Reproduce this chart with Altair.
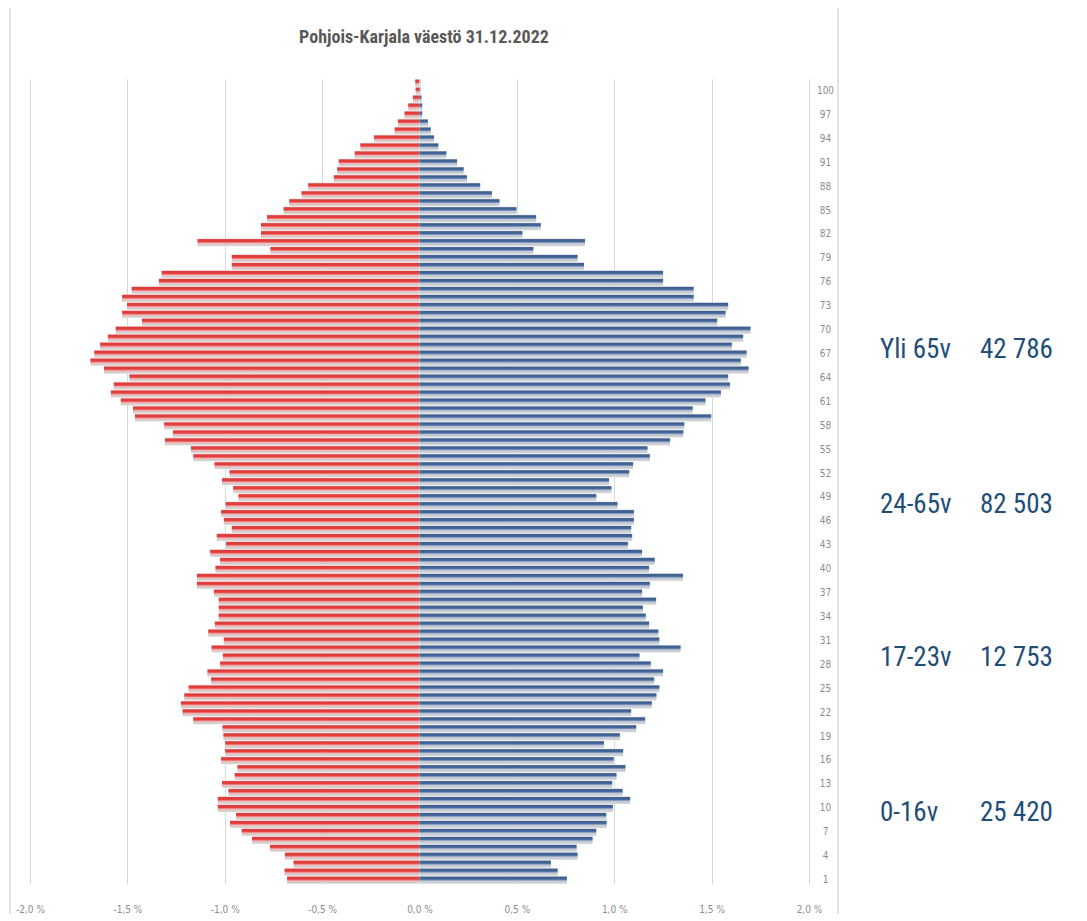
import altair as alt
import pandas as pd

# Ages (category labels 1..101, top = 101)
ages = list(range(1, 102))

# Left side (red), share of population in %
red = [0.68, 0.693, 0.647, 0.691, 0.768, 0.86, 0.913, 0.973, 0.942, 1.036,
       1.036, 0.981, 1.014, 0.949, 0.935, 1.019, 0.998, 0.998, 1.007, 1.012,
       1.162, 1.217, 1.225, 1.208, 1.186, 1.07, 1.089, 1.024, 1.01, 1.068,
       1.005, 1.085, 1.051, 1.031, 1.031, 1.031, 1.056, 1.143, 1.143, 1.048,
       1.024, 1.075, 0.993, 1.041, 0.964, 1.005, 1.019, 0.995, 0.93, 0.957,
       1.014, 0.976, 1.053, 1.162, 1.174, 1.307, 1.266, 1.311, 1.461, 1.471,
       1.534, 1.585, 1.57, 1.49, 1.62, 1.69, 1.67, 1.64, 1.60, 1.56,
       1.425, 1.527, 1.502, 1.527, 1.478, 1.338, 1.324, 0.964, 0.964, 0.766,
       1.14, 0.814, 0.814, 0.783, 0.698, 0.669, 0.606, 0.572, 0.44, 0.423,
       0.415, 0.333, 0.304, 0.234, 0.128, 0.111, 0.077, 0.058, 0.034, 0.02,
       0.022]

# Right side (blue), share of population in %
blue = [0.757, 0.71, 0.675, 0.812, 0.807, 0.889, 0.908, 0.961, 0.959, 0.993,
        1.082, 1.043, 0.99, 1.012, 1.058, 0.997, 1.046, 0.947, 1.029, 1.113,
        1.159, 1.087, 1.193, 1.217, 1.232, 1.205, 1.251, 1.188, 1.13, 1.341,
        1.232, 1.227, 1.179, 1.162, 1.147, 1.215, 1.143, 1.183, 1.353, 1.179,
        1.208, 1.143, 1.07, 1.092, 1.087, 1.101, 1.101, 1.017, 0.908, 0.986,
        0.973, 1.077, 1.097, 1.183, 1.171, 1.287, 1.355, 1.36, 1.498, 1.403,
        1.469, 1.548, 1.594, 1.585, 1.69, 1.65, 1.68, 1.604, 1.662, 1.70,
        1.529, 1.572, 1.585, 1.408, 1.408, 1.251, 1.251, 0.845, 0.812, 0.585,
        0.85, 0.529, 0.623, 0.599, 0.498, 0.411, 0.372, 0.312, 0.244, 0.227,
        0.193, 0.138, 0.097, 0.075, 0.058, 0.043, 0.014, 0.014, 0.01, 0.003,
        0.0]

x_ticks = [-2.0, -1.5, -1.0, -0.5, 0.0, 0.5, 1.0, 1.5, 2.0]
age_ticks = list(range(1, 102, 3))

group_labels = ["Yli 65v", "24-65v", "17-23v", "0-16v"]
group_counts = ["42 786", "82 503", "12 753", "25 420"]

title_text = ["Pohjois-Karjala väestö 31.12.2022"]

W, H = 779, 805
FONT = "Liberation Sans Narrow, DejaVu Sans Condensed, Roboto Condensed, Arial Narrow, Roboto, sans-serif"
BIGFONT = "Liberation Sans Narrow, Roboto Condensed, Arial Narrow, Roboto, sans-serif"

df = pd.DataFrame({"age": ages, "left": [-v for v in red], "right": blue, "zero": [0.0] * len(ages)})

label_expr = "(datum.value < 0 ? '-' : '') + replace(format(abs(datum.value), '.1f'), '.', ',') + ' %'"

xscale = alt.Scale(domain=[-2.0, 2.0], nice=False, zero=False)
yscale = alt.Scale(paddingInner=0.0, paddingOuter=0.0)

x_axis = alt.Axis(values=x_ticks, labelExpr=label_expr, grid=True, gridColor="#d9d9d9",
                  gridWidth=1, domain=False, ticks=False, title=None, labelFontSize=10,
                  labelColor="#8c8c8c", labelFont=FONT, labelPadding=20, labelFlush=False)
y_axis = alt.Axis(orient="right", values=age_ticks, domain=True, domainColor="#d9d9d9",
                  ticks=False, title=None, labelFontSize=10, labelColor="#8c8c8c",
                  labelFont=FONT, labelPadding=16, grid=False, labelAlign="center")

red_grad = alt.Gradient(gradient="linear", x1=0, x2=0, y1=0, y2=1, stops=[
    alt.GradientStop(color="#e8e8e8", offset=0.0),
    alt.GradientStop(color="#e23a3a", offset=0.15),
    alt.GradientStop(color="#e23f3f", offset=0.4),
    alt.GradientStop(color="#efb9b9", offset=0.62),
    alt.GradientStop(color="#d3d3d3", offset=0.88),
    alt.GradientStop(color="#ececec", offset=1.0)])
blue_grad = alt.Gradient(gradient="linear", x1=0, x2=0, y1=0, y2=1, stops=[
    alt.GradientStop(color="#e8e8e8", offset=0.0),
    alt.GradientStop(color="#3d5f8f", offset=0.15),
    alt.GradientStop(color="#46679a", offset=0.4),
    alt.GradientStop(color="#bcc7d8", offset=0.62),
    alt.GradientStop(color="#d3d3d3", offset=0.88),
    alt.GradientStop(color="#ececec", offset=1.0)])

base = alt.Chart(df)

red_bars = base.mark_bar(color=red_grad, cornerRadius=0).encode(
    x=alt.X("left:Q", scale=xscale, axis=x_axis),
    x2="zero:Q",
    y=alt.Y("age:O", sort="descending", scale=yscale, axis=y_axis),
)
blue_bars = base.mark_bar(color=blue_grad, cornerRadius=0).encode(
    x=alt.X("zero:Q", scale=xscale),
    x2="right:Q",
    y=alt.Y("age:O", sort="descending"),
)

# outer frame of the chart area
frame = alt.Chart(pd.DataFrame({"k": [0]})).mark_rect(
    fill=None, stroke="#d9d9d9", strokeWidth=1.5).encode(
    x=alt.value(-20), x2=alt.value(808), y=alt.value(-75), y2=alt.value(839))

title = alt.Chart(pd.DataFrame({"t": title_text})).mark_text(
    align="center", baseline="middle", fontSize=18, font=BIGFONT, fontWeight="bold",
    color="#595959").encode(x=alt.value(394), y=alt.value(-41), text="t:N")

ann_df = pd.DataFrame({"label": group_labels, "count": group_counts,
                       "py": [271, 426, 579, 734]})
ann_label = alt.Chart(ann_df).mark_text(
    align="left", baseline="middle", fontSize=27, font=BIGFONT, color="#1f4e79").encode(
    x=alt.value(850), y=alt.Y("py:Q", scale=None), text="label:N")
ann_count = alt.Chart(ann_df).mark_text(
    align="left", baseline="middle", fontSize=27, font=BIGFONT, color="#1f4e79").encode(
    x=alt.value(950), y=alt.Y("py:Q", scale=None), text="count:N")

chart = alt.layer(frame, red_bars, blue_bars, title, ann_label, ann_count).properties(
    width=W, height=H,
    autosize=alt.AutoSizeParams(type="none"),
    padding={"left": 22, "top": 71, "right": 270, "bottom": 30},
).configure_view(stroke=None).configure_axis(labelFlush=False)

chart.save("out.html", embed_options={"renderer": "svg", "actions": False})
